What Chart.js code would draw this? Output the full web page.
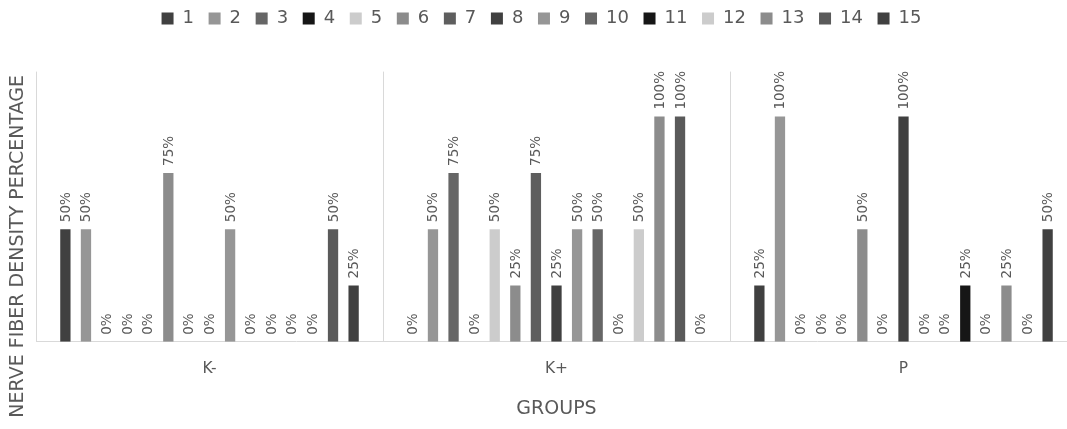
<!DOCTYPE html>
<html>
<head>
<meta charset="utf-8">
<script src="https://cdn.jsdelivr.net/npm/chart.js@4/dist/chart.umd.min.js"></script>
<style>
  html, body { margin: 0; padding: 0; background: #ffffff; overflow: hidden; width: 1067px; height: 429px; }
  #wrap { width: 1077px; height: 434px; position: absolute; left: 0; top: -5px; }
</style>
</head>
<body>
<div id="wrap"><canvas id="c" width="1077" height="434"></canvas></div>
<script>
const categories = ['K-', 'K+', 'P'];
const seriesNames = ['1','2','3','4','5','6','7','8','9','10','11','12','13','14','15'];
// values in percent, one array per group (index = series)
const valuesKminus = [50, 50, 0, 0, 0, 75, 0, 0, 50, 0, 0, 0, 0, 50, 25];
const valuesKplus  = [0, 50, 75, 0, 50, 25, 75, 25, 50, 50, 0, 50, 100, 100, 0];
const valuesP      = [25, 100, 0, 0, 0, 50, 0, 100, 0, 0, 25, 0, 25, 0, 50];
const seriesColors = ['#404040','#969696','#666666','#161616','#cccccc','#8c8c8c','#5e5e5e','#404040',
                      '#969696','#666666','#161616','#cccccc','#8c8c8c','#5a5a5a','#404040'];
const yTitle = 'NERVE FIBER DENSITY PERCENTAGE';
const xTitle = 'GROUPS';

const FONT = "'DejaVu Sans', sans-serif";
const TEXT = '#595959';

const datasets = seriesNames.map((name, i) => ({
  label: name,
  data: [valuesKminus[i], valuesKplus[i], valuesP[i]],
  backgroundColor: seriesColors[i],
  borderWidth: 0,
  barPercentage: 0.5,
  categoryPercentage: 0.89
}));

const barLabels = {
  id: 'barLabels',
  afterDatasetsDraw(chart) {
    const ctx = chart.ctx;
    ctx.save();
    ctx.font = "13.5px " + FONT;
    ctx.fillStyle = TEXT;
    ctx.textAlign = 'left';
    ctx.textBaseline = 'middle';
    chart.data.datasets.forEach((ds, di) => {
      const meta = chart.getDatasetMeta(di);
      meta.data.forEach((bar, j) => {
        const v = ds.data[j];
        ctx.save();
        ctx.translate(bar.x + 1, bar.y - 7);
        ctx.rotate(-Math.PI / 2);
        ctx.fillText(v + '%', 0, 0);
        ctx.restore();
      });
    });
    ctx.restore();
  }
};

// vertical axis title, centred on the plot plus its category labels (as in the source)
const yAxisTitle = {
  id: 'yAxisTitle',
  afterDraw(chart) {
    const ctx = chart.ctx;
    const a = chart.chartArea;
    ctx.save();
    ctx.font = "19px " + FONT;
    ctx.fillStyle = TEXT;
    ctx.textAlign = 'center';
    ctx.textBaseline = 'middle';
    ctx.translate(18, (a.top + chart.height) / 2 - 4);
    ctx.rotate(-Math.PI / 2);
    ctx.fillText(yTitle, 0, 0);
    ctx.restore();
  }
};

const legendGap = {
  id: 'legendGap',
  beforeInit(chart) {
    const lg = chart.legend;
    if (!lg) return;
    const origFit = lg.fit;
    lg.fit = function () {
      origFit.call(this);
      this.height += 34;
    };
  }
};

new Chart(document.getElementById('c'), {
  type: 'bar',
  data: { labels: categories, datasets },
  plugins: [barLabels, yAxisTitle, legendGap],
  options: {
    responsive: false,
    maintainAspectRatio: false,
    animation: false,
    layout: { padding: { left: 6, right: 0, top: 0, bottom: 9 } },
    plugins: {
      tooltip: { enabled: false },
      legend: {
        position: 'top',
        labels: {
          boxWidth: 12, boxHeight: 12,
          padding: 14.6,
          color: TEXT,
          font: { family: FONT, size: 18 }
        }
      }
    },
    scales: {
      x: {
        grid: { display: true, offset: true, color: '#d9d9d9', lineWidth: 1, drawTicks: false },
        border: { display: true, color: '#d9d9d9' },
        ticks: { color: TEXT, font: { family: FONT, size: 15.4 }, padding: 18 },
        title: { display: true, text: xTitle, color: TEXT, font: { family: FONT, size: 19 }, padding: { top: 1, bottom: 0 } }
      },
      y: {
        min: 0, max: 120,
        grid: { display: false, drawTicks: false },
        border: { display: false },
        ticks: { display: false },
        title: { display: false },
        afterFit(scale) { scale.width = 30; }
      }
    }
  }
});
</script>
</body>
</html>
